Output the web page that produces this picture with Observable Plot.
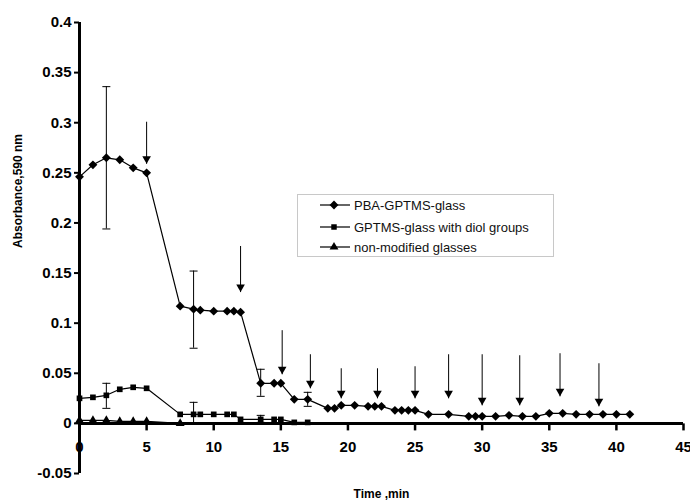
<!DOCTYPE html>
<html><head><meta charset="utf-8">
<script src="https://cdn.jsdelivr.net/npm/d3@7"></script>
<script src="https://cdn.jsdelivr.net/npm/@observablehq/plot@0.6"></script>
<style>
body{margin:0;background:#fff;}
#wrap{position:relative;width:690px;height:502px;font-family:"Liberation Sans",Arial,sans-serif;}
#legend{position:absolute;left:297px;top:194px;width:257px;height:63px;border:1px solid #c8c8c8;background:#fff;box-sizing:border-box;}
.lrow{position:absolute;left:22px;height:16px;display:flex;align-items:center;font-size:13px;color:#111;white-space:nowrap;}
.lrow svg{margin-right:4px;}
</style></head><body><div id="wrap"></div>
<script>
// ---- data ----
const pbaTime=[0,1,2,3,4,5,7.5,8.5,9,10,11,11.5,12,13.5,14.5,15,16,17,18.5,19,19.5,20.5,21.5,22,22.5,23.5,24,24.5,25,26,27.5,29,29.5,30,31,32,33,34,35,36,37,38,39,40,41];
const pbaAbs=[0.246,0.258,0.265,0.263,0.255,0.250,0.117,0.114,0.113,0.112,0.112,0.112,0.111,0.040,0.040,0.040,0.024,0.024,0.015,0.015,0.018,0.018,0.017,0.017,0.017,0.013,0.013,0.013,0.013,0.009,0.009,0.007,0.007,0.007,0.007,0.008,0.007,0.007,0.010,0.010,0.009,0.009,0.009,0.009,0.009];
const gpTime=[0,1,2,3,4,5,7.5,8.5,9,10,11,11.5,12,13.5,14.5,15,16,17];
const gpAbs=[0.025,0.026,0.028,0.034,0.036,0.035,0.009,0.009,0.009,0.009,0.009,0.009,0.004,0.004,0.004,0.004,0.001,0.001];
const nmTime=[0,1,2,3,4,5,7.5];
const nmAbs=[0.003,0.003,0.003,0.002,0.002,0.002,0.000];
const errTime=[2,8.5,13.5,17,2,8.5,13.5];
const errLow=[0.194,0.075,0.027,0.017,0.015,0.000,0.001];
const errHigh=[0.336,0.152,0.054,0.031,0.040,0.021,0.008];
const arrowTime=[5,12,15.1,17.2,19.5,22.2,25,27.5,30,32.8,35.8,38.7];
const arrowTop=[0.301,0.177,0.093,0.069,0.055,0.055,0.057,0.069,0.069,0.068,0.070,0.060];
const arrowTip=[0.259,0.131,0.049,0.035,0.025,0.025,0.025,0.025,0.018,0.018,0.027,0.017];
const xTicks=[0,5,10,15,20,25,30,35,40,45];
const yTicks=[-0.05,0,0.05,0.1,0.15,0.2,0.25,0.3,0.35,0.4];
const seriesNames=["PBA-GPTMS-glass","GPTMS-glass with diol groups","non-modified glasses"];
const xTitle="Time ,min";
const yTitle="Absorbance,590 nm";

// ---- build tables ----
const mk=(name,t,a)=>t.map((v,i)=>({series:name,time:v,abs:a[i]}));
const pba=mk(seriesNames[0],pbaTime,pbaAbs);
const gp=mk(seriesNames[1],gpTime,gpAbs);
const nm=mk(seriesNames[2],nmTime,nmAbs);
const rows=[...pba,...gp,...nm];
const errs=errTime.map((t,i)=>({time:t,lo:errLow[i],hi:errHigh[i]}));
const arrows=arrowTime.map((t,i)=>({time:t,top:arrowTop[i],tip:arrowTip[i]}));
const cap={draw(ctx,size){const w=Math.sqrt(size/Math.PI);ctx.moveTo(-w,0);ctx.lineTo(w,0);}};
const font={fontFamily:"Liberation Sans, Arial, sans-serif",fontWeight:"bold"};

const chart=Plot.plot({
  width:690,height:502,
  marginLeft:79,marginRight:7,marginTop:22,marginBottom:29,
  x:{domain:[0,45]},
  y:{domain:[-0.05,0.4]},
  style:{fontFamily:"Liberation Sans, Arial, sans-serif",background:"#fff",color:"#000"},
  marks:[
    Plot.axisY({ticks:yTicks,tickFormat:d=>String(d),tickSize:5,tickPadding:3,fontSize:15,fontWeight:"bold",label:null,strokeWidth:2}),
    Plot.axisX({ticks:[],label:null}),
    // error bars
    Plot.ruleX(errs,{x:"time",y1:"lo",y2:"hi",stroke:"black",strokeWidth:1}),
    Plot.dot(errs,{x:"time",y:"hi",symbol:cap,r:4,fill:"none",stroke:"black",strokeWidth:1}),
    Plot.dot(errs,{x:"time",y:"lo",symbol:cap,r:4,fill:"none",stroke:"black",strokeWidth:1}),
    // lines
    Plot.line(rows,{x:"time",y:"abs",z:"series",stroke:"black",strokeWidth:1.2}),
    Plot.dot(pba,{x:"time",y:"abs",symbol:"diamond2",r:4,fill:"black",stroke:"none"}),
    Plot.dot(gp,{x:"time",y:"abs",symbol:"square",r:3.2,fill:"black",stroke:"none"}),
    Plot.dot(nm,{x:"time",y:"abs",symbol:"triangle",r:3.3,fill:"black",stroke:"none"}),
    // arrows
    Plot.link(arrows,{x1:"time",x2:"time",y1:"top",y2:"tip",stroke:"black",strokeWidth:1}),
    Plot.dot(arrows,{x:"time",y:"tip",symbol:"triangle",rotate:180,r:3.2,dy:-5,fill:"black",stroke:"none"}),
    // axes lines
    Plot.ruleY([0],{x1:xTicks[0],x2:xTicks[xTicks.length-1],stroke:"black",strokeWidth:3}),
    Plot.ruleX([0],{y1:yTicks[0],y2:yTicks[yTicks.length-1],stroke:"black",strokeWidth:3}),
    Plot.link(xTicks,{x1:d=>d,x2:d=>d,y1:0,y2:-0.007,stroke:"black",strokeWidth:2.5}),
    Plot.text(xTicks,{x:d=>d,y:0,dy:24,text:d=>String(d),fontSize:15,...font,fill:"black"}),
    // titles
    Plot.text([yTitle],{frameAnchor:"left",dx:-61,rotate:-90,fontSize:12,...font,fill:"black"}),
    Plot.text([xTitle],{frameAnchor:"bottom",dy:24,fontSize:12,...font,fill:"black"})
  ]
});
const wrap=document.getElementById("wrap");
wrap.appendChild(chart);

// legend overlay
const legend=document.createElement("div");
legend.id="legend";
const syms=[d3.symbolDiamond2,d3.symbolSquare,d3.symbolTriangle];
const sizes=[50,30,34];
const tops=[2,24,44];
seriesNames.forEach((name,i)=>{
  const r=document.createElement("div");
  r.className="lrow";r.style.top=tops[i]+"px";
  const path=d3.symbol(syms[i],sizes[i])();
  r.innerHTML=`<svg width="30" height="12"><line x1="0" x2="30" y1="6" y2="6" stroke="black" stroke-width="1.2"/><path d="${path}" transform="translate(14,6)" fill="black"/></svg><span>${name}</span>`;
  legend.appendChild(r);
});
wrap.appendChild(legend);
</script></body></html>
